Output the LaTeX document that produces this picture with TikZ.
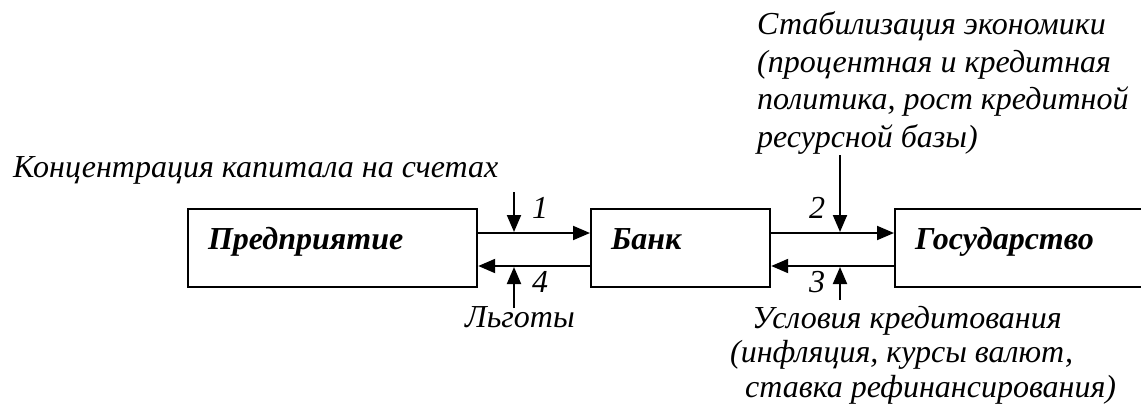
\documentclass[tikz,border=0pt]{standalone}
\usepackage{fontspec}
\setmainfont{Liberation Serif}
\usetikzlibrary{arrows.meta}
\begin{document}
\begin{tikzpicture}[x=1pt,y=-1pt,
  txt/.style={font=\fontsize{32}{37.5}\selectfont\itshape, inner sep=0pt},
  box/.style={draw, line width=2.2pt, font=\fontsize{32}{37.5}\selectfont\bfseries\itshape,
    inner xsep=20pt, inner ysep=0pt, text height=40pt, text depth=38pt, align=left, anchor=north west},
  arr/.style={line width=2pt, -{Triangle[length=17pt,width=14pt]}}]
\useasboundingbox (0,0) rectangle (1141,407);
\node[box, text width=249pt] (pre) at (187,208) {Предприятие};
\node[box, text width=139pt] (bank) at (590,208) {Банк};
\node[box, text width=240pt] (gov) at (894,208) {Государство};
\draw[arr] (pre.east |- 0,233) -- (bank.west |- 0,233);
\draw[arr] (bank.west |- 0,266) -- (pre.east |- 0,266);
\draw[arr] (bank.east |- 0,233) -- (gov.west |- 0,233);
\draw[arr] (gov.west |- 0,266) -- (bank.east |- 0,266);
\coordinate (c1) at (514,192); \coordinate (c1e) at (514,232);
\coordinate (c4) at (514,308); \coordinate (c4e) at (514,267);
\coordinate (c2) at (840,155); \coordinate (c2e) at (840,232);
\coordinate (c3) at (840,300); \coordinate (c3e) at (840,267);
\draw[arr] (c1) -- (c1e);
\draw[arr] (c4) -- (c4e);
\draw[arr] (c2) -- (c2e);
\draw[arr] (c3) -- (c3e);
\node[txt, anchor=base] (n1) at (540,218) {1};
\node[txt, anchor=base] (n4) at (540,292) {4};
\node[txt, anchor=base] (n2) at (817,218) {2};
\node[txt, anchor=base] (n3) at (817,292) {3};
\node[txt, anchor=base west] (conc) at (13,177) {Концентрация капитала на счетах};
\node[txt, anchor=base west] (lg) at (465,327) {Льготы};
\node[txt, anchor=base west, align=left] (stab) at (757,147)
  {Стабилизация экономики\\(процентная и кредитная\\политика, рост кредитной\\ресурсной базы)};
\node[txt, anchor=base west, align=left, font=\fontsize{32}{34.5}\selectfont\itshape] (usl) at (730,397)
  {\hspace*{22pt}Условия кредитования\\(инфляция, курсы валют,\\\hspace*{15pt}ставка рефинансирования)};
\end{tikzpicture}
\end{document}
